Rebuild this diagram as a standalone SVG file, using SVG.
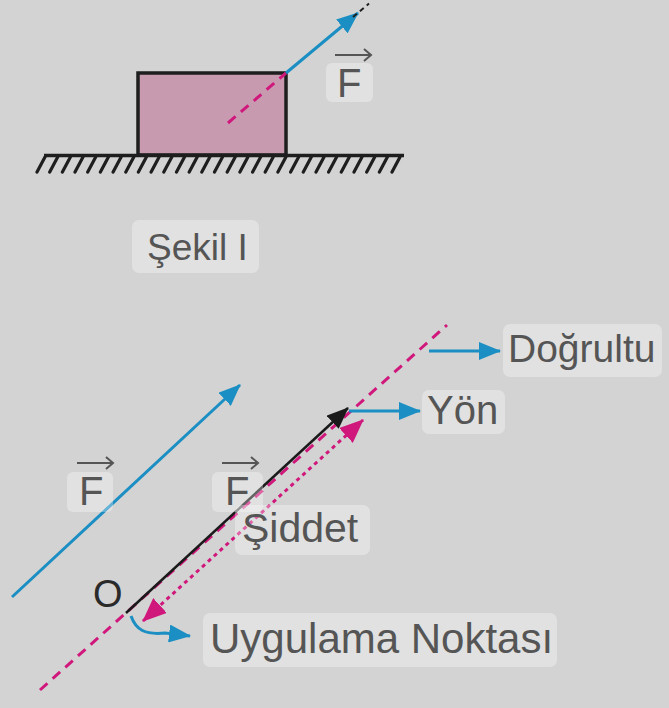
<svg xmlns="http://www.w3.org/2000/svg" width="669" height="708" viewBox="0 0 669 708">
<defs>
<style>
.lbl{font-family:"Liberation Sans",Arial,sans-serif;fill:#555;}
.box{fill:#ffffff;fill-opacity:0.32;}
.blue{stroke:#1b8fc3;stroke-width:3;fill:none;}
.mag{stroke:#d0187c;stroke-width:3;fill:none;stroke-dasharray:10 7;}
.dot{stroke:#d0187c;stroke-width:3;fill:none;stroke-dasharray:4 4;}
.vec{stroke:#555;stroke-width:2;fill:none;}
</style>
<marker id="hb" viewBox="0 0 22 18" refX="21" refY="9" markerWidth="22" markerHeight="18" markerUnits="userSpaceOnUse" orient="auto"><path d="M0,0 L22,9 L0,18 z" fill="#1b8fc3"/></marker>
<marker id="hk" viewBox="0 0 22 18" refX="21" refY="9" markerWidth="22" markerHeight="18" markerUnits="userSpaceOnUse" orient="auto"><path d="M0,0 L22,9 L0,18 z" fill="#1a1a1a"/></marker>
<marker id="hm" viewBox="0 0 24 20" refX="23" refY="10" markerWidth="24" markerHeight="20" markerUnits="userSpaceOnUse" orient="auto-start-reverse"><path d="M0,0 L24,10 L0,20 z" fill="#d0187c"/></marker>
</defs>
<rect x="0" y="0" width="669" height="708" fill="#d3d3d3"/>

<!-- Figure I -->
<g id="block">
<rect x="138" y="73" width="148" height="82" fill="#c79ab0" stroke="#1e1e1e" stroke-width="3.5"/>
</g>
<g id="ground">
<line x1="44" y1="155.5" x2="404" y2="155.5" stroke="#1e1e1e" stroke-width="3.5"/>
<path stroke="#1e1e1e" stroke-width="3.2" stroke-linecap="round" fill="none" d="M45,157 l-8,15 M57.7,157 l-8,15 M70.4,157 l-8,15 M83,157 l-8,15 M95.7,157 l-8,15 M108.4,157 l-8,15 M121.1,157 l-8,15 M133.8,157 l-8,15 M146.4,157 l-8,15 M159.1,157 l-8,15 M171.8,157 l-8,15 M184.5,157 l-8,15 M197.2,157 l-8,15 M209.8,157 l-8,15 M222.5,157 l-8,15 M235.2,157 l-8,15 M247.9,157 l-8,15 M260.6,157 l-8,15 M273.2,157 l-8,15 M285.9,157 l-8,15 M298.6,157 l-8,15 M311.3,157 l-8,15 M324,157 l-8,15 M336.6,157 l-8,15 M349.3,157 l-8,15 M362,157 l-8,15 M374.7,157 l-8,15 M387.4,157 l-8,15 M400,157 l-8,15"/>
</g>
<g id="connectors-top">
<line class="mag" x1="228" y1="123" x2="286" y2="73"/>
<line class="blue" x1="286" y1="73" x2="358" y2="13" marker-end="url(#hb)"/>
<line x1="353" y1="17" x2="369" y2="3.5" stroke="#1e1e1e" stroke-width="2" stroke-dasharray="5 4"/>
</g>
<g id="label-F-top">
<rect class="box" x="326" y="63" width="47" height="39" rx="6"/>
<text class="lbl" x="337" y="97" font-size="40">F</text>
<path class="vec" d="M335,55 H371 M364,49 L371,55 L364,61"/>
</g>
<g id="label-sekil">
<rect class="box" x="132" y="220" width="127" height="53" rx="7"/>
<text class="lbl" x="147" y="260" font-size="37">Şekil I</text>
</g>

<!-- Figure II connectors -->
<g id="connectors">
<line class="mag" x1="40" y1="690" x2="447" y2="325"/>
<line class="blue" x1="12" y1="597" x2="240" y2="385" marker-end="url(#hb)"/>
<line x1="126" y1="613" x2="348" y2="408" stroke="#1a1a1a" stroke-width="2.5" marker-end="url(#hk)"/>
<line class="dot" x1="143" y1="621" x2="363" y2="420" marker-start="url(#hm)" marker-end="url(#hm)"/>
<line class="blue" x1="429" y1="351" x2="500" y2="351" marker-end="url(#hb)"/>
<line class="blue" x1="349" y1="411" x2="420" y2="411" marker-end="url(#hb)"/>
<path class="blue" d="M131,616 C136,630 145,635 165,633 L190,636" marker-end="url(#hb)"/>
</g>

<g id="label-F-free">
<rect class="box" x="67" y="472" width="46" height="40" rx="6"/>
<text class="lbl" x="79" y="505" font-size="40">F</text>
<path class="vec" d="M77,463 H113 M106,457 L113,463 L106,469"/>
</g>
<g id="label-F-black">
<rect class="box" x="212" y="472" width="51" height="40" rx="6"/>
<text class="lbl" x="225" y="505" font-size="40">F</text>
<path class="vec" d="M222,463 H258 M251,457 L258,463 L251,469"/>
</g>
<g id="label-O">
<text x="93" y="607" font-size="38" font-family="Liberation Sans,Arial,sans-serif" fill="#2a2a2a">O</text>
</g>
<g id="label-dogrultu">
<rect class="box" x="503" y="324" width="159" height="53" rx="7"/>
<text class="lbl" x="508" y="362" font-size="39">Doğrultu</text>
</g>
<g id="label-yon">
<rect class="box" x="422" y="390" width="83" height="44" rx="7"/>
<text class="lbl" x="427" y="424" font-size="40">Yön</text>
</g>
<g id="label-siddet">
<rect class="box" x="235" y="505" width="135" height="50" rx="7"/>
<text class="lbl" x="242" y="542" font-size="41">Şiddet</text>
</g>
<g id="label-uygulama">
<rect class="box" x="203" y="613" width="354" height="54" rx="7"/>
<text class="lbl" x="210" y="653" font-size="42">Uygulama Noktası</text>
</g>
</svg>
